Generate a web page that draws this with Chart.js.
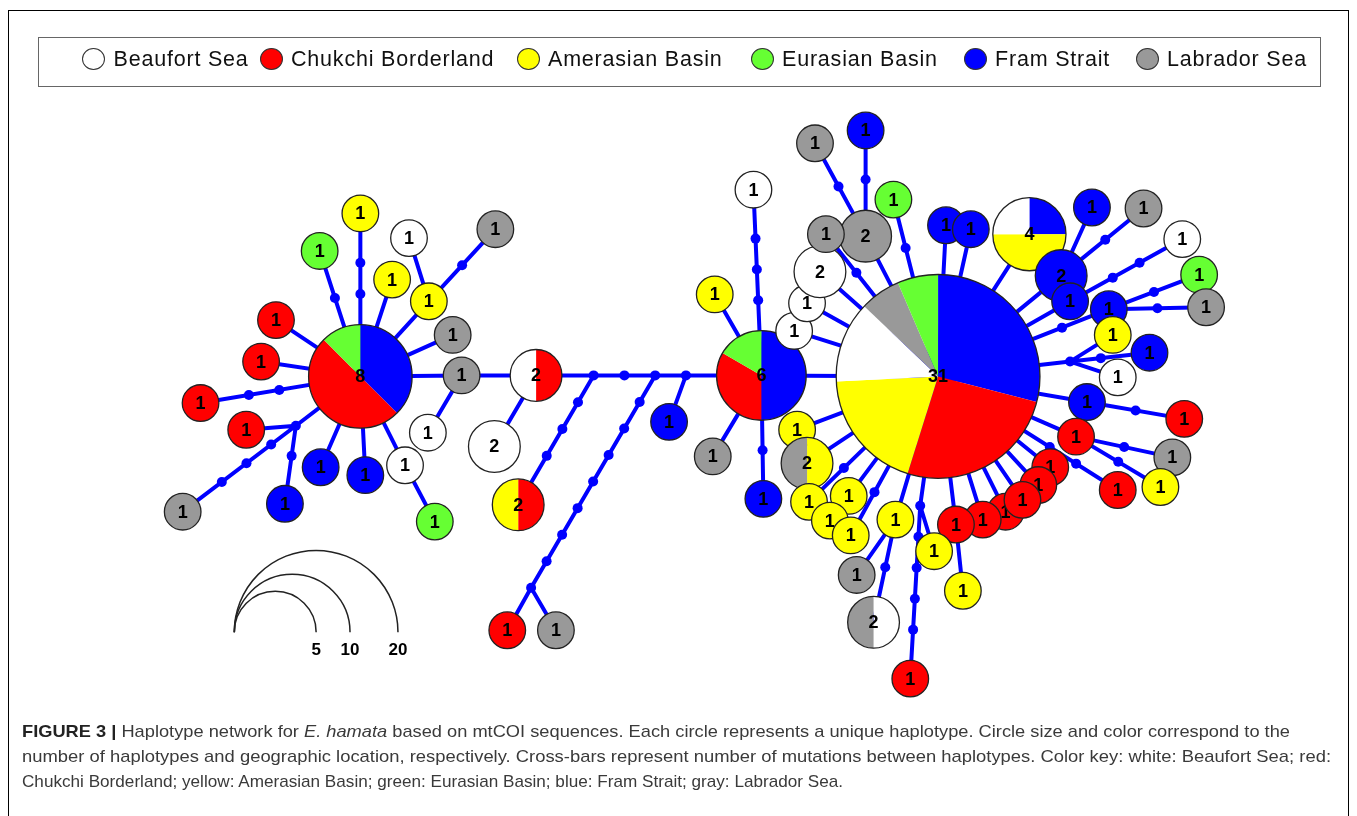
<!DOCTYPE html>
<html lang="en">
<head>
<meta charset="UTF-8">
<title>Haplotype network</title>
<script src="https://cdn.jsdelivr.net/npm/chart.js"></script>
<style>
  body { margin: 0; background: #fff; overflow: hidden; font-family: "Liberation Sans", Arial, sans-serif; }
  #page { position: relative; width: 1357px; height: 816px; overflow: hidden; }
  #frame { position: absolute; left: 8px; top: 10px; width: 1341px; height: 900px; border: 1px solid #000; box-sizing: border-box; }
  #net { position: absolute; left: 0; top: 0; }
  #legendBox { position: absolute; left: 38px; top: 37px; width: 1283px; height: 50px; border: 1.5px solid #666; box-sizing: border-box; }
  .item { position: absolute; top: 47px; height: 24px; display: flex; align-items: center; white-space: pre; }
  .swatch { width: 23px; height: 22px; border-radius: 50%; border: 1.3px solid #333; box-sizing: border-box; margin-right: 8.5px; flex: none; }
  .item span { font-size: 21.5px; letter-spacing: 0.8px; color: #111; }
  #caption { position: absolute; left: 22px; top: 719px; font-size: 17px; line-height: 25px; color: #3a3a3a; white-space: nowrap; }
  #caption div span { display: inline-block; transform-origin: left center; }
  #caption b { color: #222; }
</style>
</head>
<body>
<div id="page">
  <div id="frame"></div>
  <canvas id="net" width="1357" height="816"></canvas>
  <div id="legendBox"></div>
  <div id="legend"></div>
  <div id="caption">
    <div><span data-fit="1268"><b>FIGURE 3 |</b> Haplotype network for <i>E. hamata</i> based on mtCOI sequences. Each circle represents a unique haplotype. Circle size and color correspond to the</span></div>
    <div><span data-fit="1309">number of haplotypes and geographic location, respectively. Cross-bars represent number of mutations between haplotypes. Color key: white: Beaufort Sea; red:</span></div>
    <div><span data-fit="821">Chukchi Borderland; yellow: Amerasian Basin; green: Eurasian Basin; blue: Fram Strait; gray: Labrador Sea.</span></div>
  </div>
</div>
<script>
// regions (legend order) and their pie colours
var regionCodes  = ['W', 'R', 'Y', 'G', 'B', 'L'];
var regionNames  = ['Beaufort Sea', 'Chukchi Borderland', 'Amerasian Basin', 'Eurasian Basin', 'Fram Strait', 'Labrador Sea'];
var regionColors = ['#ffffff', '#ff0000', '#ffff00', '#66ff33', '#0000ff', '#999999'];
// slices are laid clockwise from 12 o'clock in this order
var sliceOrder = ['B', 'R', 'Y', 'W', 'L', 'G'];

// haplotypes: id, layout x, layout y, sample counts per region
var haplotypes = [
  ['a0', 358, 376, 'B3R4G1'],
  ['a1', 358, 211, 'Y1'], ['a2', 317, 249, 'G1'], ['a3', 407, 236, 'W1'], ['a4', 390, 278, 'Y1'],
  ['a5', 427, 300, 'Y1'], ['a6', 494, 227, 'L1'], ['a7', 451, 334, 'L1'], ['a8', 460, 375, 'L1'],
  ['a9', 426, 433, 'W1'], ['a10', 273, 319, 'R1'], ['a11', 258, 361, 'R1'], ['a12', 197, 403, 'R1'],
  ['a13', 243, 430, 'R1'], ['a14', 179, 513, 'L1'], ['a15', 282, 505, 'B1'], ['a16', 318, 468, 'B1'],
  ['a17', 363, 476, 'B1'], ['a18', 403, 466, 'W1'], ['a19', 433, 523, 'G1'],
  ['m0', 535, 375, 'W1R1'], ['m1', 493, 447, 'W2'], ['m2', 517, 506, 'Y1R1'],
  ['m3', 506, 633, 'R1'], ['m4', 555, 633, 'L1'], ['m5', 669, 422, 'B1'], ['m6', 713, 457, 'L1'],
  ['h0', 762, 375, 'B3R2G1'],
  ['h1', 715, 293, 'Y1'], ['h2', 754, 187, 'W1'], ['h3', 764, 500, 'B1'],
  ['c0', 940, 376, 'B9R8Y6W4L2G2'],
  ['c1', 795, 330, 'W1'], ['c2', 808, 302, 'W1'], ['c3', 821, 270, 'W2'], ['c5', 867, 234, 'L2'],
  ['c4', 827, 232, 'L1'], ['c6', 816, 140, 'L1'], ['c7', 867, 127, 'B1'], ['c8', 895, 197, 'G1'],
  ['c9', 948, 223, 'B1'], ['c10', 973, 227, 'B1'], ['c11', 1032, 232, 'B1Y2W1'],
  ['r0', 1095, 205, 'B1'], ['r1', 1064, 274, 'B2'], ['r2', 1147, 206, 'L1'], ['r3', 1073, 300, 'B1'],
  ['r4', 1186, 237, 'W1'], ['r5', 1112, 308, 'B1'], ['r6', 1203, 273, 'G1'], ['r7', 1210, 306, 'L1'],
  ['r8', 1116, 334, 'Y1'], ['r9', 1153, 352, 'B1'], ['r10', 1121, 377, 'W1'], ['r11', 1090, 402, 'B1'],
  ['r12', 1188, 419, 'R1'], ['r13', 1079, 437, 'R1'], ['r14', 1176, 458, 'L1'], ['r15', 1164, 488, 'Y1'],
  ['r16', 1121, 491, 'R1'],
  ['r17', 1053, 468, 'R1'], ['r18', 1041, 486, 'R1'], ['r20', 1008, 513, 'R1'], ['r19', 1025, 501, 'R1'],
  ['r21', 985, 521, 'R1'], ['r22', 958, 526, 'R1'],
  ['s0', 798, 430, 'Y1'], ['s1', 808, 464, 'Y1L1'], ['s2', 810, 503, 'Y1'], ['s3', 850, 497, 'Y1'],
  ['s4', 831, 522, 'Y1'], ['s5', 852, 537, 'Y1'], ['s6', 897, 521, 'Y1'], ['s7', 858, 577, 'L1'],
  ['s8', 875, 625, 'W1L1'], ['s9', 912, 682, 'R1'], ['s10', 936, 553, 'Y1'], ['s11', 965, 593, 'Y1']
];

// median vectors (unsampled branch points)
var junctions = [
  ['j1', 293, 426], ['j2', 593, 375], ['j3', 655, 375], ['j4', 686, 375],
  ['j5', 530, 590], ['j6', 1073, 361], ['j7', 922, 507]
];

// links: from, to, number of mutations (cross-bars)
var links = [
  ['a1', 'a0', 2], ['a2', 'a0', 1], ['a3', 'a5', 0], ['a4', 'a0', 0], ['a5', 'a0', 0], ['a6', 'a5', 1],
  ['a7', 'a0', 0], ['a8', 'a0', 0], ['a9', 'a8', 0], ['a10', 'a0', 0], ['a11', 'a0', 0], ['a12', 'a0', 2],
  ['a13', 'j1', 0], ['j1', 'a0', 0], ['a14', 'j1', 3], ['a15', 'j1', 1], ['a16', 'a0', 0], ['a17', 'a0', 0],
  ['a18', 'a0', 0], ['a19', 'a18', 0],
  ['a8', 'm0', 0], ['m1', 'm0', 0], ['m0', 'j2', 0], ['m2', 'j2', 3], ['j2', 'j3', 1], ['j3', 'j4', 0],
  ['j4', 'h0', 0], ['j3', 'j5', 7], ['m3', 'j5', 0], ['m4', 'j5', 0], ['m5', 'j4', 0], ['m6', 'h0', 0],
  ['h1', 'h0', 0], ['h2', 'h0', 3], ['h3', 'h0', 1], ['h0', 'c0', 0],
  ['c1', 'c0', 0], ['c2', 'c0', 0], ['c3', 'c0', 0], ['c4', 'c0', 1], ['c5', 'c0', 0], ['c6', 'c5', 1],
  ['c7', 'c5', 1], ['c8', 'c0', 1], ['c9', 'c0', 0], ['c10', 'c0', 0], ['c11', 'c0', 0],
  ['r0', 'r1', 0], ['r1', 'c0', 0], ['r2', 'r1', 1], ['r3', 'c0', 0], ['r4', 'r3', 2], ['r5', 'c0', 1],
  ['r6', 'r5', 1], ['r7', 'r5', 1], ['r8', 'j6', 0], ['j6', 'c0', 0], ['r9', 'j6', 1], ['r10', 'j6', 0],
  ['r11', 'c0', 0], ['r12', 'r11', 1], ['r13', 'c0', 0], ['r14', 'r13', 1], ['r15', 'r13', 1], ['r16', 'c0', 2],
  ['r17', 'c0', 0], ['r18', 'c0', 0], ['r19', 'c0', 0], ['r20', 'c0', 0], ['r21', 'c0', 0], ['r22', 'c0', 0],
  ['s0', 'c0', 0], ['s1', 'c0', 0], ['s2', 'c0', 1], ['s3', 'c0', 0], ['s4', 's2', 0], ['s5', 'c0', 1],
  ['s6', 'c0', 0], ['s7', 's6', 0], ['s8', 's6', 1], ['j7', 'c0', 0], ['s9', 'j7', 4], ['s10', 'j7', 0],
  ['s11', 'r22', 0]
];

// circle size key
var sizeKey = [5, 10, 20];

// ---- layout / style ----
var legendCenters = [93.5, 271, 528, 762, 975, 1147];
var keyAnchor = { x: 231, y: 635 };

function radius(n) { return 18.3 * Math.sqrt(n); }

function parseMix(s) {
  var counts = {}, total = 0, re = /([A-Z])(\d+)/g, m;
  while ((m = re.exec(s))) { counts[m[1]] = +m[2]; total += +m[2]; }
  return { counts: counts, n: total };
}

// legend
var legend = document.getElementById('legend');
regionNames.forEach(function (name, i) {
  var item = document.createElement('div');
  item.className = 'item';
  item.style.left = (legendCenters[i] - 11.5) + 'px';
  var sw = document.createElement('div');
  sw.className = 'swatch';
  sw.style.background = regionColors[i];
  var tx = document.createElement('span');
  tx.textContent = name;
  item.appendChild(sw);
  item.appendChild(tx);
  legend.appendChild(item);
});

document.querySelectorAll('[data-fit]').forEach(function (el) {
  var w = el.getBoundingClientRect().width;
  el.style.transform = 'scaleX(' + (el.getAttribute('data-fit') / w) + ')';
});

// build lookup tables
var nodes = {};
var hapData = haplotypes.map(function (h) {
  var mix = parseMix(h[3]);
  nodes[h[0]] = { x: h[1], y: h[2], r: radius(mix.n) };
  return { x: h[1], y: h[2], counts: mix.counts, n: mix.n };
});
junctions.forEach(function (j) { nodes[j[0]] = { x: j[1], y: j[2], r: 0 }; });

var linkData = [];
var barData = junctions.map(function (j) { return { x: j[1], y: j[2] }; });
links.forEach(function (l) {
  var a = nodes[l[0]], b = nodes[l[1]];
  linkData.push({ x: a.x, y: a.y }, { x: b.x, y: b.y }, { x: null, y: null });
  // cross-bars spaced evenly between the two circle rims
  var dx = b.x - a.x, dy = b.y - a.y, d = Math.sqrt(dx * dx + dy * dy);
  var gap = (d - a.r - b.r) / (l[2] + 1);
  for (var k = 1; k <= l[2]; k++) {
    var t = (a.r + gap * k) / d;
    barData.push({ x: a.x + dx * t, y: a.y + dy * t });
  }
});

var colorOf = {};
regionCodes.forEach(function (c, i) { colorOf[c] = regionColors[i]; });

var pieNodes = {
  id: 'pieNodes',
  afterDatasetsDraw: function (chart) {
    var ctx = chart.ctx;
    var xs = chart.scales.x, ys = chart.scales.y;
    var meta = chart.getDatasetMeta(2);
    ctx.save();
    meta.data.forEach(function (pt, i) {
      var h = hapData[i];
      var r = radius(h.n);
      var a = -Math.PI / 2;
      sliceOrder.forEach(function (code) {
        var c = h.counts[code] || 0;
        if (!c) return;
        var sweep = c / h.n * Math.PI * 2;
        ctx.beginPath();
        ctx.moveTo(pt.x, pt.y);
        ctx.arc(pt.x, pt.y, r, a, a + sweep);
        ctx.closePath();
        ctx.fillStyle = colorOf[code];
        ctx.fill();
        a += sweep;
      });
      ctx.beginPath();
      ctx.arc(pt.x, pt.y, r, 0, Math.PI * 2);
      ctx.lineWidth = 1.3;
      ctx.strokeStyle = '#222';
      ctx.stroke();
      ctx.fillStyle = '#000';
      ctx.font = 'bold 18px "Liberation Sans", Arial, sans-serif';
      ctx.textAlign = 'center';
      ctx.textBaseline = 'middle';
      ctx.fillText(String(h.n), pt.x, pt.y + 1);
    });

    // size key: nested half circles sharing the left foot
    var ax = xs.getPixelForValue(keyAnchor.x), ay = ys.getPixelForValue(keyAnchor.y);
    ctx.strokeStyle = '#222';
    ctx.lineWidth = 1.5;
    ctx.font = 'bold 17px "Liberation Sans", Arial, sans-serif';
    sizeKey.forEach(function (n) {
      var r = radius(n);
      ctx.beginPath();
      ctx.arc(ax + r, ay, r, Math.PI, Math.PI * 2);
      ctx.stroke();
      ctx.fillText(String(n), ax + 2 * r, ay + 18);
    });
    ctx.restore();
  }
};

var ctx = document.getElementById('net').getContext('2d');
new Chart(ctx, {
  type: 'scatter',
  data: {
    datasets: [
      { label: 'links', data: linkData, showLine: true, spanGaps: false, borderColor: '#0000ff',
        borderWidth: 4, pointRadius: 0, order: 2 },
      { label: 'mutations', data: barData, pointRadius: 5, pointBackgroundColor: '#0000ff',
        pointBorderWidth: 0, order: 1 },
      { label: 'haplotypes', data: hapData, pointRadius: 0, order: 0 }
    ]
  },
  options: {
    responsive: false,
    animation: false,
    events: [],
    layout: { padding: 0 },
    scales: {
      x: { type: 'linear', min: 0, max: 1357, display: false },
      y: { type: 'linear', min: 0, max: 816, reverse: true, display: false }
    },
    plugins: { legend: { display: false }, tooltip: { enabled: false } }
  },
  plugins: [pieNodes]
});
</script>
</body>
</html>
